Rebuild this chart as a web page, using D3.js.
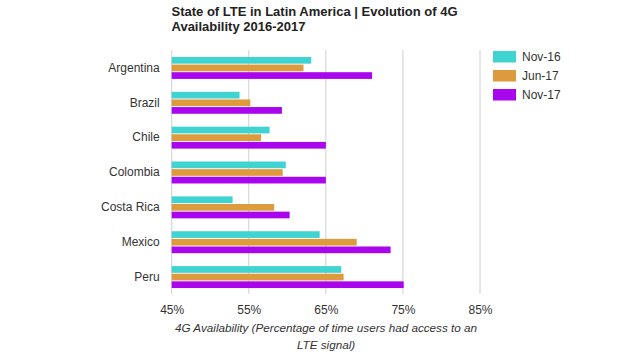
<!DOCTYPE html>
<html><head><meta charset="utf-8">
<script src="https://cdn.jsdelivr.net/npm/d3@7"></script>
<style>body{margin:0;background:#fff;}svg{display:block;font-family:"Liberation Sans",Arial,sans-serif;}</style>
</head><body>
<svg id="c" width="640" height="360"></svg>
<script>
const categories = ["Argentina","Brazil","Chile","Colombia","Costa Rica","Mexico","Peru"];
const seriesNames = ["Nov-16","Jun-17","Nov-17"];
const nov16 = [63.1,53.8,57.7,59.8,52.9,64.2,67.0];
const jun17 = [62.1,55.2,56.6,59.4,58.3,69.0,67.3];
const nov17 = [71.0,59.3,65.0,65.0,60.3,73.4,75.1];
const tickValues = [45,55,65,75,85];
const colors = ["#3fd3d1","#de9b3d","#aa06ee"];
const titleLines = ["State of LTE in Latin America | Evolution of 4G","Availability 2016-2017"];
const axisTitleLines = ["4G Availability (Percentage of time users had access to an","LTE signal)"];

const series = [nov16, jun17, nov17];
const svg = d3.select("#c");
const x = d3.scaleLinear().domain([45,85]).range([171.7,480]);
const y = d3.scaleBand().domain(categories).range([50.5,294.5]).paddingInner(0.37).paddingOuter(0.185);
const yi = d3.scaleBand().domain(seriesNames).range([0,y.bandwidth()]).paddingInner(0.12);

// gridlines
svg.append("g").selectAll("line").data(tickValues).join("line")
  .attr("x1",d=>x(d)).attr("x2",d=>x(d)).attr("y1",50).attr("y2",294)
  .attr("stroke","#d0d0d0").attr("stroke-width",1);

// bars
const g = svg.append("g");
categories.forEach((c,i)=>{
  seriesNames.forEach((s,j)=>{
    g.append("rect").attr("x",x(45)).attr("y",y(c)+yi(s))
      .attr("width",x(series[j][i])-x(45)).attr("height",yi.bandwidth())
      .attr("fill",colors[j]);
  });
});

// y axis labels
const ya = d3.axisLeft(y).tickSize(0).tickPadding(12);
const yg = svg.append("g").attr("transform",`translate(${x(45)},0)`).call(ya);
yg.select(".domain").remove();
yg.selectAll("text").attr("font-size",12).attr("fill","#333").attr("font-family","Liberation Sans, Arial, sans-serif");

// x axis labels
const xa = d3.axisBottom(x).tickValues(tickValues).tickSize(0).tickPadding(7).tickFormat(d=>d+"%");
const xg = svg.append("g").attr("transform","translate(0,298)").call(xa);
xg.select(".domain").remove();
xg.selectAll("text").attr("font-size",12).attr("fill","#333").attr("font-family","Liberation Sans, Arial, sans-serif");

// title
const t = svg.append("text").attr("x",171.5).attr("y",15.5).attr("font-size",13).attr("font-weight","bold").attr("fill","#222");
titleLines.forEach((l,i)=>t.append("tspan").attr("x",171.5).attr("dy",i?15:0).text(l));

// axis title
const at = svg.append("text").attr("text-anchor","middle").attr("font-size",11.7).attr("font-style","italic").attr("fill","#333");
axisTitleLines.forEach((l,i)=>at.append("tspan").attr("x",326).attr("y",i?349:332).text(l));

// legend
const lg = svg.append("g");
seriesNames.forEach((s,j)=>{
  lg.append("rect").attr("x",493).attr("y",51+j*19).attr("width",23).attr("height",11.5).attr("fill",colors[j]);
  lg.append("text").attr("x",522).attr("y",61+j*19).attr("font-size",12).attr("fill","#333").text(s);
});
</script>
</body></html>
